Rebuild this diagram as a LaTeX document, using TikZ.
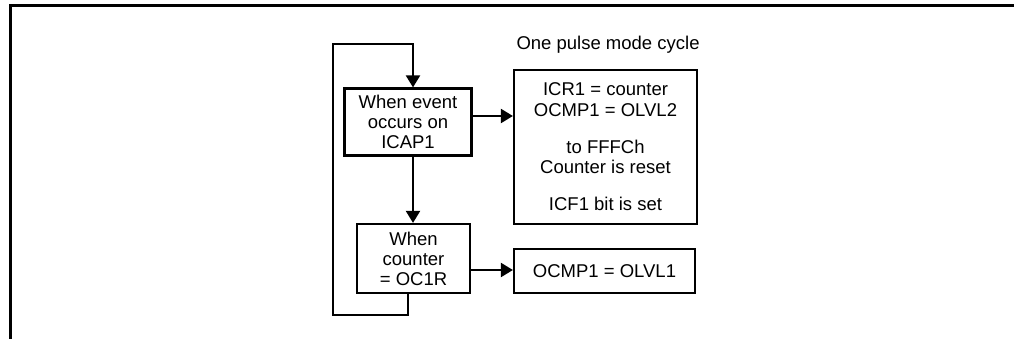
\documentclass[tikz,border=0pt]{standalone}
\usepackage{fontspec}
\setmainfont{Liberation Sans}
\usetikzlibrary{arrows.meta,positioning}

\begin{document}
\begin{tikzpicture}[
  x=1pt, y=-1pt,
  every node/.style={font=\fontsize{18.5}{20}\selectfont},
  block/.style={draw, line width=2.2pt, align=center, inner sep=0pt},
  flow/.style={line width=2.2pt, line join=miter, -{Triangle[length=12pt,width=14pt]}}
]
\useasboundingbox (0,0) rectangle (1014,339);
% frame of the figure
\draw[line width=3pt] (10.3,339) -- (10.3,5.3) -- (1014,5.3);

\node[anchor=base west] (title) at (513,50) {One pulse mode cycle};

\node[block, minimum width=127pt, minimum height=67pt] (evt) at (408,122)
  {When event\\occurs on\\ICAP1};
\node[block, minimum width=183pt, minimum height=154pt] (evtact) at (605.5,147)
  {ICR1 = counter\\[1pt]OCMP1 = OLVL2\\[17pt]to FFFCh\\Counter is reset\\[17pt]ICF1 bit is set};
\node[block, minimum width=113pt, minimum height=69pt] (cmp) at (413.5,258.5)
  {When\\counter\\= OC1R};
\node[block, minimum width=181pt, minimum height=44pt] (cmpact) at (604.5,271)
  {OCMP1 = OLVL1};

\coordinate (trunk) at (413,0);
\coordinate (loopbl) at (333,315);
\coordinate (looptl) at (333,44);

\draw[flow] ([yshift=6pt]evt.east) -- ([yshift=6pt]evt.east -| evtact.west);
\draw[flow] (evt.south -| trunk) -- (cmp.north -| trunk);
\draw[flow] ([yshift=-11.5pt]cmp.east) -- ([yshift=-11.5pt]cmp.east -| cmpact.west);
% back to the start of the cycle
\draw[flow] ([xshift=-5.5pt]cmp.south) |- (loopbl) -- (looptl) -| (evt.north -| trunk);
\end{tikzpicture}
\end{document}
